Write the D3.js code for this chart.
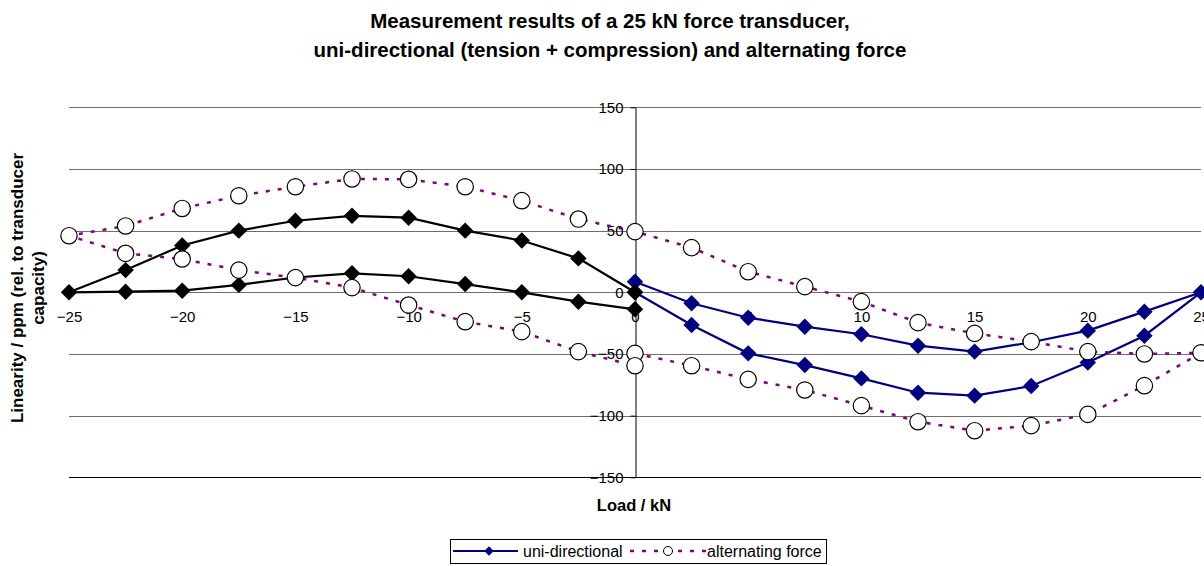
<!DOCTYPE html>
<html>
<head>
<meta charset="utf-8">
<script src="https://cdn.jsdelivr.net/npm/d3@7"></script>
<style>
  body { margin: 0; background: #fff; }
  svg { font-family: "Liberation Sans", Arial, sans-serif; display: block; }
</style>
</head>
<body>
<svg id="chart"></svg>
<script>
// ---- data ----
const xTicks = [-25, -20, -15, -10, -5, 0, 5, 10, 15, 20, 25];
const yTicks = [-150, -100, -50, 0, 50, 100, 150];

// uni-directional, tension side (0 -> 25 -> 0)
const tensionLoad = [0, 2.5, 5, 7.5, 10, 12.5, 15, 17.5, 20, 22.5, 25,
                     22.5, 20, 17.5, 15, 12.5, 10, 7.5, 5, 2.5, 0];
const tensionValue = [0, -26.5, -49.5, -59, -69.8, -81.4, -83.8, -76, -57, -35.2, 0,
                      -15.7, -31.1, -40.5, -48.1, -43.3, -34, -27.9, -20.6, -8.9, 8.6];

// uni-directional, compression side (0 -> -25 -> 0)
const compressionLoad = [0, -2.5, -5, -7.5, -10, -12.5, -15, -17.5, -20, -22.5, -25,
                         -22.5, -20, -17.5, -15, -12.5, -10, -7.5, -5, -2.5, 0];
const compressionValue = [0, 27.5, 42, 50, 60.5, 62, 58, 50, 38, 18, 0,
                          0.5, 1.3, 6, 12, 15.4, 13, 6.7, 0, -7.6, -13.8];

// alternating force (0 -> 25 -> -25 -> 0)
const altLoad = [0, 2.5, 5, 7.5, 10, 12.5, 15, 17.5, 20, 22.5, 25,
                 22.5, 20, 17.5, 15, 12.5, 10, 7.5, 5, 2.5, 0,
                 -2.5, -5, -7.5, -10, -12.5, -15, -17.5, -20, -22.5, -25,
                 -22.5, -20, -17.5, -15, -12.5, -10, -7.5, -5, -2.5, 0];
const altValue = [-49.5, -59.5, -70.6, -79.2, -91.9, -104.9, -112.2, -108.1, -99, -75.7, -49,
                  -50, -48.1, -40, -33.3, -24.6, -7.6, 4.6, 16.7, 36.2, 49.2,
                  59.4, 74.3, 85.6, 91.6, 91.9, 85.6, 78.3, 68, 53.8, 45.9,
                  31.6, 27, 18, 11.9, 3.8, -10.3, -23.8, -31.9, -48.1, -59.5];

const legendKeys = ['uni-directional', 'alternating force'];

// ---- chart ----
const width = 1204, height = 566;
const plot = { left: 69, right: 1201, top: 107.3, bottom: 477.3 };

const svg = d3.select('#chart')
    .attr('width', width)
    .attr('height', height);

const xScale = d3.scaleLinear()
    .domain([-25, 25])
    .range([plot.left, plot.right]);

const yScale = d3.scaleLinear()
    .domain([-150, 150])
    .range([plot.bottom, plot.top]);

// title
svg.append('text')
    .attr('x', 610)
    .attr('text-anchor', 'middle')
    .attr('font-weight', 'bold')
    .attr('font-size', 20.5)
    .selectAll('tspan')
    .data(['Measurement results of a 25 kN force transducer,',
           'uni-directional (tension + compression) and alternating force'])
    .join('tspan')
      .attr('x', 610)
      .attr('y', (d, i) => 28 + i * 29)
      .text(d => d);

// horizontal gridlines
svg.append('g')
    .selectAll('line')
    .data(yTicks)
    .join('line')
      .attr('x1', plot.left)
      .attr('x2', plot.right)
      .attr('y1', d => Math.round(yScale(d)) + 0.5)
      .attr('y2', d => Math.round(yScale(d)) + 0.5)
      .attr('stroke', d => d === -150 ? '#000' : '#6e6e6e')
      .attr('stroke-width', 1.2);

// x axis (labels only, sits on the 0 line)
const xAxisG = svg.append('g')
    .attr('transform', `translate(0,${yScale(0)})`)
    .call(d3.axisBottom(xScale).tickValues(xTicks).tickSize(0).tickPadding(19));
xAxisG.select('.domain').remove();
xAxisG.selectAll('text')
    .attr('font-size', 15)
    .attr('font-family', '"Liberation Sans", Arial, sans-serif')
    .attr('fill', '#000');

// y axis through x = 0
const yAxisG = svg.append('g')
    .attr('transform', `translate(${Math.round(xScale(0)) + 0.5},0)`)
    .call(d3.axisLeft(yScale).tickValues(yTicks).tickSize(5).tickSizeOuter(0).tickPadding(7));
yAxisG.select('.domain').attr('stroke', '#000');
yAxisG.selectAll('.tick line').attr('stroke', '#000');
yAxisG.selectAll('text')
    .attr('font-size', 15)
    .attr('font-family', '"Liberation Sans", Arial, sans-serif')
    .attr('fill', '#000');

// axis titles
svg.append('text')
    .attr('x', 634)
    .attr('y', 511)
    .attr('text-anchor', 'middle')
    .attr('font-weight', 'bold')
    .attr('font-size', 16.5)
    .text('Load / kN');

const yTitle = svg.append('text')
    .attr('transform', 'rotate(-90)')
    .attr('text-anchor', 'middle')
    .attr('font-weight', 'bold')
    .attr('font-size', 17);
yTitle.selectAll('tspan')
    .data(['Linearity / ppm (rel. to transducer', 'capacity)'])
    .join('tspan')
      .attr('x', -288)
      .attr('y', (d, i) => 23 + i * 20.5)
      .text(d => d);

// series
const line = d3.line()
    .x(d => xScale(d[0]))
    .y(d => yScale(d[1]));

const diamond = d3.symbol(d3.symbolSquare, 135);

function drawSeries(loads, values, color, dash, marker) {
  const pts = d3.zip(loads, values);
  svg.append('path')
      .datum(pts)
      .attr('fill', 'none')
      .attr('stroke', color)
      .attr('stroke-width', dash ? 2.5 : 2.2)
      .attr('stroke-dasharray', dash)
      .attr('d', line);

  if (marker === 'diamond') {
    svg.append('g')
        .selectAll('path')
        .data(pts)
        .join('path')
          .attr('d', diamond)
          .attr('transform', d => `translate(${xScale(d[0])},${yScale(d[1])}) rotate(45)`)
          .attr('fill', color);
  } else {
    svg.append('g')
        .selectAll('circle')
        .data(pts)
        .join('circle')
          .attr('cx', d => xScale(d[0]))
          .attr('cy', d => yScale(d[1]))
          .attr('r', 8.2)
          .attr('fill', '#fff')
          .attr('stroke', '#000')
          .attr('stroke-width', 1.2);
  }
}

drawSeries(tensionLoad, tensionValue, '#000080', null, 'diamond');
drawSeries(compressionLoad, compressionValue, '#000000', null, 'diamond');
drawSeries(altLoad, altValue, '#800080', '4,8', 'circle');

// legend
const legend = svg.append('g');
legend.append('rect')
    .attr('x', 450.5)
    .attr('y', 539.5)
    .attr('width', 376)
    .attr('height', 24)
    .attr('fill', '#fff')
    .attr('stroke', '#000');

legend.append('line')
    .attr('x1', 453).attr('x2', 518)
    .attr('y1', 551).attr('y2', 551)
    .attr('stroke', '#000080')
    .attr('stroke-width', 2);
legend.append('path')
    .attr('d', d3.symbol(d3.symbolSquare, 45))
    .attr('transform', 'translate(489,551) rotate(45)')
    .attr('fill', '#000080');

legend.append('line')
    .attr('x1', 630).attr('x2', 706)
    .attr('y1', 551).attr('y2', 551)
    .attr('stroke', '#800080')
    .attr('stroke-width', 2.5)
    .attr('stroke-dasharray', '4,8');
legend.append('circle')
    .attr('cx', 668).attr('cy', 551)
    .attr('r', 4.5)
    .attr('fill', '#fff')
    .attr('stroke', '#000');

legend.selectAll('.lbl')
    .data(legendKeys)
    .join('text')
      .attr('class', 'lbl')
      .attr('x', (d, i) => i === 0 ? 523 : 707)
      .attr('y', 557)
      .attr('font-size', 16)
      .text(d => d);
</script>
</body>
</html>
